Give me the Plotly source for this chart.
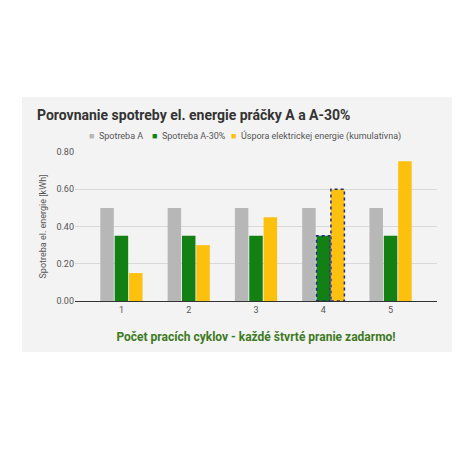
import plotly.graph_objects as go

cycles = [1, 2, 3, 4, 5]
spotreba_a = [0.50, 0.50, 0.50, 0.50, 0.50]
spotreba_a30 = [0.35, 0.35, 0.35, 0.35, 0.35]
uspora = [0.15, 0.30, 0.45, 0.60, 0.75]
names = ["Spotreba A", "Spotreba A-30%", "Úspora elektrickej energie (kumulatívna)"]
colors = ["#b7b7b7", "#138013", "#fdc00c"]
highlight_idx = 3

fig = go.Figure()
for n, c, v in zip(names, colors, [spotreba_a, spotreba_a30, uspora]):
    fig.add_trace(go.Bar(x=cycles, y=v, name=n, marker_color=c, marker_line_width=0, showlegend=False))

bargap, groupgap = 0.36, 0.06
slot = (1 - bargap) / 3
w = slot * (1 - groupgap)
shapes = [dict(type="rect", xref="paper", yref="paper", x0=0, x1=1, y0=-0.342, y1=1.369,
               fillcolor="#f3f3f3", line_width=0, layer="below")]
for k, v in [(1, spotreba_a30), (2, uspora)]:
    cx = cycles[highlight_idx] + (k - 1) * slot
    shapes.append(dict(type="rect", xref="x", yref="y", x0=cx - w / 2, x1=cx + w / 2, y0=0,
                       y1=v[highlight_idx], line=dict(color="#1f2a8a", width=1.5, dash="dot"),
                       fillcolor="rgba(0,0,0,0)"))

PW = 430
legend_x = [65 / PW, 128 / PW, 207 / PW]
annotations = []
for lx, n, c in zip(legend_x, names, colors):
    annotations.append(dict(xref="paper", yref="paper", x=lx, y=1.107, xanchor="left", yanchor="middle",
                            showarrow=False, text=f"<span style='color:{c}'>■</span>  {n}",
                            font=dict(size=9, color="#555")))

fig.update_layout(
    width=474, height=450,
    margin=dict(l=14, r=30, t=144, b=157, autoexpand=False),
    paper_bgcolor="white", plot_bgcolor="#f3f3f3",
    barmode="group", bargap=bargap, bargroupgap=groupgap,
    font=dict(family="Roboto", size=9, color="#555"),
    shapes=shapes, annotations=annotations,
    showlegend=False,
    title=dict(text="<b>Porovnanie spotreby el. energie práčky A a A-30%</b>", x=29 / 474, xanchor="left",
               y=1 - 107 / 450, yanchor="middle", font=dict(size=14, color="#333", family="Roboto")),
    xaxis=dict(domain=[53 / PW, 415 / PW], range=[0.31, 5.69], tickvals=cycles,
               ticktext=[str(c) for c in cycles], showgrid=False,
               showline=True, linecolor="#333", linewidth=1, ticks="",
               title=dict(text="<b>Počet pracích cyklov - každé štvrté pranie zadarmo!</b>",
                          font=dict(size=12, color="#3d7a1f"), standoff=18)),
    yaxis=dict(range=[0, 0.8], tickvals=[0, 0.2, 0.4, 0.6, 0.8], tickformat=".2f", gridcolor="#d9d9d9",
               zeroline=False, title=dict(text="Spotreba el. energie [kWh]", font=dict(size=9, color="#555"),
                                          standoff=8)),
)
fig.write_html("out.html")
